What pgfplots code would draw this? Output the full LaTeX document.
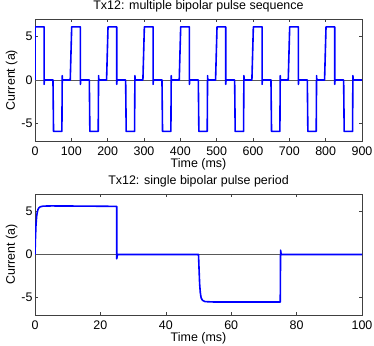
\documentclass[border=0pt]{standalone}
\usepackage{pgfplots}
\pgfplotsset{compat=1.18}
\usepackage{fontspec}
\setmainfont{Liberation Sans}

\pgfplotsset{
  matlab/.style={
    scale only axis,
    width=327bp,
    ymin=-7, ymax=7,
    ytick={-5,0,5},
    tick align=inside,
    xtick pos=both, ytick pos=both,
    major tick length=3bp,
    axis line style={black!75, line width=0.5bp},
    every tick/.style={black!75, line width=0.5bp},
    tick label style={font=\fontsize{12.5}{14}\selectfont},
    label style={font=\fontsize{12.5}{14}\selectfont},
    title style={font=\fontsize{12.5}{14}\selectfont, yshift=-3bp},
    /pgf/number format/assume math mode=true,
    xlabel style={yshift=3.5bp},
    ylabel style={yshift=-3bp},
    xticklabel style={yshift=-2bp},
    yticklabel style={xshift=1bp},
    xlabel={Time (ms)},
    ylabel={Current (a)},
  },
}

\begin{document}
\begin{tikzpicture}
\path[use as bounding box] (0,0) rectangle (374bp,346bp);

\begin{axis}[matlab,
  at={(35bp,205bp)}, anchor=south west,
  height=122bp,
  xmin=0, xmax=900,
  xtick={0,100,...,900},
  title={Tx12: multiple bipolar pulse sequence},
]
\addplot[black!65, line width=0.5bp] coordinates {(0,0) (900,0)};
\addplot[blue, line width=1.6bp, line join=round] coordinates {
 (0,0) (0.5,6.1) (25,6.1) (25,-0.5) (25.8,0) (49.5,0) (51,-5.9) (74,-5.9) (75,0.5) (75.6,0)
 (97,0) (101,6.1) (125,6.1) (125,-0.5) (125.8,0) (149.5,0) (151,-5.9) (174,-5.9) (175,0.5) (175.6,0)
 (197,0) (201,6.1) (225,6.1) (225,-0.5) (225.8,0) (249.5,0) (251,-5.9) (274,-5.9) (275,0.5) (275.6,0)
 (297,0) (301,6.1) (325,6.1) (325,-0.5) (325.8,0) (349.5,0) (351,-5.9) (374,-5.9) (375,0.5) (375.6,0)
 (397,0) (401,6.1) (425,6.1) (425,-0.5) (425.8,0) (449.5,0) (451,-5.9) (474,-5.9) (475,0.5) (475.6,0)
 (497,0) (501,6.1) (525,6.1) (525,-0.5) (525.8,0) (549.5,0) (551,-5.9) (574,-5.9) (575,0.5) (575.6,0)
 (597,0) (601,6.1) (625,6.1) (625,-0.5) (625.8,0) (649.5,0) (651,-5.9) (674,-5.9) (675,0.5) (675.6,0)
 (697,0) (701,6.1) (725,6.1) (725,-0.5) (725.8,0) (749.5,0) (751,-5.9) (774,-5.9) (775,0.5) (775.6,0)
 (797,0) (801,6.1) (825,6.1) (825,-0.5) (825.8,0) (849.5,0) (851,-5.9) (874,-5.9) (875,0.5) (875.6,0)
 (900,0)
};
\end{axis}

\begin{axis}[matlab,
  at={(35bp,31bp)}, anchor=south west,
  height=121bp,
  xmin=0, xmax=100,
  xtick={0,20,...,100},
  title={Tx12: single bipolar pulse period},
]
\addplot[black!65, line width=0.5bp] coordinates {(0,0) (100,0)};
\addplot[blue, line width=1.6bp, line join=round] coordinates {
 (0,0) (0.15,2.0) (0.3,3.4) (0.5,4.4) (0.7,4.9) (0.9,5.2) (1.2,5.4) (1.6,5.52) (2.5,5.6)
 (5,5.62) (15,5.6) (25,5.57) (25,-0.5) (25.2,0)
 (50,0) (50.2,-2.0) (50.35,-3.4) (50.55,-4.4) (50.8,-5.0) (51.2,-5.3) (52,-5.45) (55,-5.5)
 (75,-5.5) (75.1,0.5) (75.3,0) (100,0)
};
\end{axis}
\end{tikzpicture}
\end{document}
